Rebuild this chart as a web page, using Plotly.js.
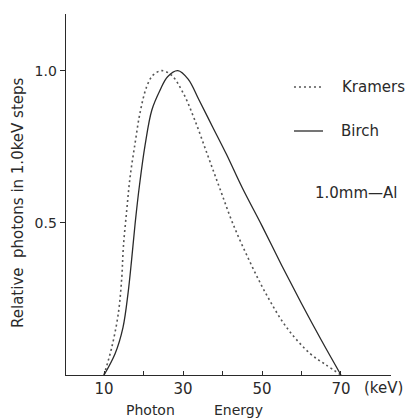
<!DOCTYPE html>
<html>
<head>
<meta charset="utf-8">
<script src="https://cdn.plot.ly/plotly-3.0.1.min.js"></script>
<style>html,body{margin:0;padding:0;background:#fff;}#chart{width:406px;height:419px;}</style>
</head>
<body>
<div id="chart"></div>
<script>
// Photon energy (keV) and relative photons
var kramersEnergy = [10, 11.95, 13.6, 14.5, 14.9, 15.75, 16.6, 17.85, 19.1, 20.8, 22.4, 24.6, 27.1, 30.1, 33.0, 36.3, 39.4, 42.7, 47.0, 51.3, 56.3, 62.2, 66.0, 70];
var kramersValue  = [0, 0.09, 0.20, 0.32, 0.42, 0.54, 0.65, 0.76, 0.86, 0.947, 0.985, 1.0, 0.985, 0.925, 0.837, 0.72, 0.61, 0.495, 0.37, 0.26, 0.155, 0.07, 0.035, 0];
var birchEnergy = [10, 12.8, 14.8, 16.1, 17.0, 17.9, 19.0, 20.4, 22.1, 24.2, 26.1, 28.7, 31.3, 34.0, 37.5, 41.0, 45.0, 50.0, 55.0, 60.0, 65.0, 70];
var birchValue  = [0, 0.07, 0.156, 0.27, 0.38, 0.50, 0.625, 0.755, 0.87, 0.936, 0.98, 1.0, 0.972, 0.905, 0.815, 0.725, 0.615, 0.49, 0.36, 0.235, 0.115, 0];
var xTickVals = [10, 20, 30, 40, 50, 60, 70];
var xTickText = ['10', '', '30', '', '50', '', '70'];
var yTickVals = [0.5, 1.0];
var yTickText = ['0.5', '1.0'];

var ink = '#2a2a2a';
var fnt = 'DejaVu Sans, sans-serif';

var traces = [
  {x: kramersEnergy, y: kramersValue, type: 'scatter', mode: 'lines', name: 'Kramers',
   line: {color: '#555', width: 1.6, dash: '2px,3px', shape: 'spline', smoothing: 1.0}},
  {x: birchEnergy, y: birchValue, type: 'scatter', mode: 'lines', name: 'Birch',
   line: {color: ink, width: 1.3, shape: 'spline', smoothing: 1.0}}
];

var layout = {
  width: 406, height: 419,
  margin: {l: 66, r: 15, t: 14, b: 44},
  paper_bgcolor: '#fff', plot_bgcolor: '#fff',
  showlegend: false,
  font: {family: fnt, color: ink, size: 14},
  xaxis: {
    range: [0.38, 82.66], showgrid: false, zeroline: false,
    showline: true, linecolor: ink, linewidth: 1.4,
    tickmode: 'array', tickvals: xTickVals, ticktext: xTickText,
    ticks: 'inside', ticklen: 4, tickcolor: ink, tickwidth: 1,
    tickfont: {family: fnt, size: 15, color: ink}
  },
  yaxis: {
    range: [0, 1.186], showgrid: false, zeroline: false,
    showline: true, linecolor: ink, linewidth: 1.4,
    tickmode: 'array', tickvals: yTickVals, ticktext: yTickText,
    ticks: 'outside', ticklen: 5, tickcolor: ink, tickwidth: 1,
    tickfont: {family: fnt, size: 14, color: ink}
  },
  shapes: [
    {type: 'line', xref: 'paper', yref: 'paper', x0: 0.7015, x1: 0.7846, y0: 0.7978, y1: 0.7978,
     line: {color: '#555', width: 1.3, dash: '2px,3px'}},
    {type: 'line', xref: 'paper', yref: 'paper', x0: 0.7015, x1: 0.7908, y0: 0.6759, y1: 0.6759,
     line: {color: ink, width: 1.3}}
  ],
  annotations: [
    {xref: 'paper', yref: 'paper', x: 0.843, y: 0.7978, xanchor: 'left', yanchor: 'middle',
     text: 'Kramers', showarrow: false, font: {family: fnt, size: 15, color: ink}},
    {xref: 'paper', yref: 'paper', x: 0.84, y: 0.6759, xanchor: 'left', yanchor: 'middle',
     text: 'Birch', showarrow: false, font: {family: fnt, size: 15, color: ink}},
    {xref: 'paper', yref: 'paper', x: 0.76, y: 0.504, xanchor: 'left', yanchor: 'middle',
     text: '1.0mm—Al', showarrow: false, font: {family: fnt, size: 15, color: ink}},
    {xref: 'paper', yref: 'paper', x: (362 - 66) / 325, y: (375 - 388) / 361, xanchor: 'left', yanchor: 'middle',
     text: '(keV)', showarrow: false, font: {family: fnt, size: 15, color: ink}},
    {xref: 'paper', yref: 'paper', x: (150 - 66) / 325, y: (375 - 410) / 361, xanchor: 'center', yanchor: 'middle',
     text: 'Photon', showarrow: false, font: {family: fnt, size: 14, color: ink}},
    {xref: 'paper', yref: 'paper', x: (239 - 66) / 325, y: (375 - 410) / 361, xanchor: 'center', yanchor: 'middle',
     text: 'Energy', showarrow: false, font: {family: fnt, size: 14, color: ink}},
    {xref: 'paper', yref: 'paper', x: (18 - 66) / 325, y: (375 - 203) / 361, xanchor: 'center', yanchor: 'middle',
     text: 'Relative  photons in 1.0keV steps', textangle: -90, showarrow: false,
     font: {family: fnt, size: 15, color: ink}}
  ]
};

Plotly.newPlot('chart', traces, layout, {staticPlot: true, displayModeBar: false});
</script>
</body>
</html>
